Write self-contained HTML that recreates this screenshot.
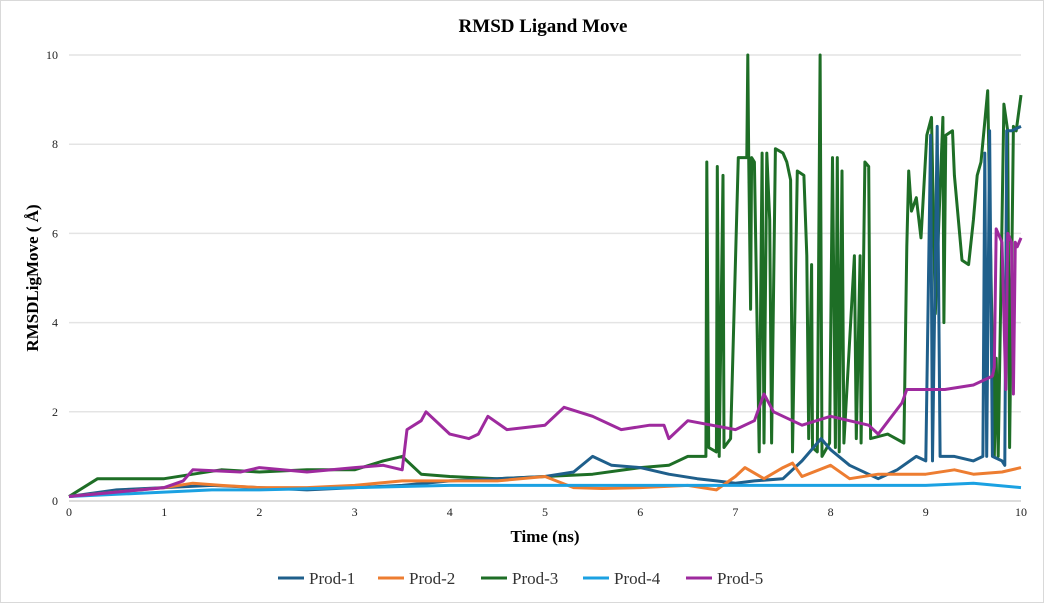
<!DOCTYPE html>
<html><head><meta charset="utf-8">
<style>
body{margin:0;background:#fff;}
svg text{font-family:"Liberation Serif",serif;}
</style></head>
<body>
<svg id="chart" width="1044" height="603" xmlns="http://www.w3.org/2000/svg">
<rect x="0.5" y="0.5" width="1043" height="602" fill="#fff" stroke="#d9d9d9"/>
<text x="543" y="32" text-anchor="middle" font-size="19" font-weight="bold">RMSD Ligand Move</text>
<g id="grid"></g>
<g id="yticks"></g>
<g id="xticks"></g>
<g id="series"></g>
<text x="545" y="542" text-anchor="middle" font-size="17" font-weight="bold">Time (ns)</text>
<text transform="translate(38,278) rotate(-90)" text-anchor="middle" font-size="17" font-weight="bold">RMSDLigMove ( Å)</text>
<g id="legend"></g>
</svg>
<script>
const yTicks=[0,2,4,6,8,10];
const xTicks=[0,1,2,3,4,5,6,7,8,9,10];
const seriesNames=["Prod-1","Prod-2","Prod-3","Prod-4","Prod-5"];
const seriesColors=["#1f5f8b","#ed7d31","#1e6e26","#1ba1e2","#9e2a9e"];
const p1t=[0,0.5,1,1.5,2,2.5,3,3.5,4,4.5,5,5.3,5.5,5.7,6,6.3,6.6,6.8,7,7.2,7.5,7.7,7.9,8.0,8.2,8.5,8.7,8.9,9.0,9.05,9.07,9.12,9.15,9.3,9.5,9.6,9.62,9.64,9.67,9.7,9.8,9.83,9.85,9.9,10];
const p1v=[0.1,0.25,0.3,0.35,0.3,0.25,0.3,0.35,0.45,0.5,0.55,0.65,1.0,0.8,0.75,0.6,0.5,0.45,0.4,0.45,0.5,0.9,1.4,1.15,0.8,0.5,0.7,1.0,0.9,8.2,0.9,8.4,1.0,1.0,0.9,1.0,7.8,1.0,8.3,1.0,0.9,0.8,8.3,8.3,8.4];
const p2t=[0,0.5,1,1.3,1.6,2,2.5,3,3.5,4,4.5,5,5.3,5.6,6,6.5,6.8,7,7.1,7.3,7.5,7.6,7.7,8.0,8.2,8.5,9,9.3,9.5,9.8,10];
const p2v=[0.1,0.2,0.3,0.4,0.35,0.3,0.3,0.35,0.45,0.45,0.45,0.55,0.3,0.28,0.3,0.35,0.25,0.55,0.75,0.5,0.75,0.85,0.55,0.8,0.5,0.6,0.6,0.7,0.6,0.65,0.75];
const p3t=[0,0.3,0.6,1,1.3,1.6,2,2.5,3,3.3,3.5,3.7,4,4.5,5,5.5,6,6.3,6.5,6.69,6.70,6.72,6.8,6.81,6.83,6.87,6.88,6.95,7.03,7.12,7.13,7.14,7.16,7.17,7.2,7.25,7.28,7.3,7.33,7.36,7.38,7.42,7.5,7.54,7.58,7.6,7.65,7.72,7.75,7.77,7.8,7.81,7.86,7.89,7.91,7.99,8.02,8.05,8.07,8.09,8.12,8.14,8.25,8.27,8.31,8.32,8.36,8.40,8.42,8.6,8.77,8.8,8.82,8.85,8.9,8.95,9.01,9.06,9.1,9.18,9.19,9.21,9.28,9.3,9.38,9.45,9.5,9.54,9.58,9.65,9.72,9.74,9.76,9.82,9.86,9.88,9.92,9.95,10];
const p3v=[0.1,0.5,0.5,0.5,0.6,0.7,0.65,0.7,0.7,0.9,1.0,0.6,0.55,0.5,0.55,0.6,0.75,0.8,1.0,1.0,7.6,1.2,1.1,7.5,1.0,7.3,1.2,1.4,7.7,7.7,10,7.7,4.3,7.7,7.6,1.1,7.8,1.3,7.8,6.3,1.3,7.9,7.8,7.6,7.2,1.1,7.4,7.3,5.5,1.4,5.3,1.2,1.1,10,1.0,1.3,7.7,1.2,7.7,1.1,7.4,1.3,5.5,1.4,5.5,1.3,7.6,7.5,1.4,1.5,1.3,5.7,7.4,6.5,6.8,5.9,8.2,8.6,4.2,8.6,4.0,8.2,8.3,7.3,5.4,5.3,6.3,7.3,7.6,9.2,1.0,3.2,1.0,8.9,8.3,1.2,8.4,8.3,9.1];
const p4t=[0,0.5,1,1.5,2,3,4,5,6,7,8,9,9.5,10];
const p4v=[0.1,0.15,0.2,0.25,0.25,0.3,0.35,0.35,0.35,0.35,0.35,0.35,0.4,0.3];
const p5t=[0,0.5,1,1.2,1.3,1.8,2,2.5,3,3.3,3.5,3.55,3.7,3.75,4,4.2,4.3,4.4,4.6,5,5.2,5.5,5.8,6.1,6.25,6.3,6.5,7,7.2,7.3,7.4,7.7,8,8.4,8.5,8.75,8.8,9.2,9.5,9.7,9.72,9.74,9.8,9.84,9.86,9.9,9.92,9.94,9.96,10];
const p5v=[0.1,0.2,0.3,0.45,0.7,0.65,0.75,0.65,0.75,0.8,0.7,1.6,1.8,2.0,1.5,1.4,1.5,1.9,1.6,1.7,2.1,1.9,1.6,1.7,1.7,1.4,1.8,1.6,1.8,2.4,2.0,1.7,1.9,1.7,1.5,2.2,2.5,2.5,2.6,2.8,3.0,6.1,5.8,2.5,6.0,5.8,2.4,5.8,5.7,5.9];
const seriesT=[p1t,p2t,p3t,p4t,p5t];
const seriesV=[p1v,p2v,p3v,p4v,p5v];

const X0=69,X1=1021,Y0=501,Y1=55,XMAX=10,YMAX=10;
const xs=t=>X0+(X1-X0)*t/XMAX;
const ys=v=>Y0-(Y0-Y1)*v/YMAX;
const NS="http://www.w3.org/2000/svg";
function mk(tag,parent,attrs){const e=document.createElementNS(NS,tag);for(const k in attrs)e.setAttribute(k,attrs[k]);parent.appendChild(e);return e;}
const grid=document.getElementById('grid'),yt=document.getElementById('yticks'),xt=document.getElementById('xticks');
yTicks.forEach(v=>{
  const l=mk('line',grid,{x1:X0,x2:X1,y1:ys(v),y2:ys(v),stroke:v===0?'#d0d0d0':'#e4e4e4','stroke-width':1.5});
  
  
  const t=mk('text',yt,{x:58,y:ys(v)+4,'text-anchor':'end','font-size':12,fill:'#222'});
  t.textContent=v;
  
  
});
xTicks.forEach(v=>{
  const t=mk('text',xt,{x:xs(v),y:516,'text-anchor':'middle','font-size':12,fill:'#222'});
  t.textContent=v;
  
  
});
const sg=document.getElementById('series');
const order=[0,1,3,4,2];
[2,0,1,3,4].forEach(i=>{
  const d=seriesT[i].map((t,j)=>(j?'L':'M')+xs(t).toFixed(1)+','+ys(seriesV[i][j]).toFixed(1)).join('');
  const p=mk('path',sg,{d:d,fill:'none',stroke:seriesColors[i],'stroke-width':3,'stroke-linejoin':'round'});
  
  
});
const lg=document.getElementById('legend');
const lx=[278,378,481,583,686];
seriesNames.forEach((n,i)=>{
  const g=mk('g',lg,{});
  
  
  mk('line',g,{x1:lx[i],x2:lx[i]+26,y1:578,y2:578,stroke:seriesColors[i],'stroke-width':3});
  const t=mk('text',g,{x:lx[i]+31,y:584,'font-size':17,fill:'#333'});
  t.textContent=n;
});
</script>
</body></html>
